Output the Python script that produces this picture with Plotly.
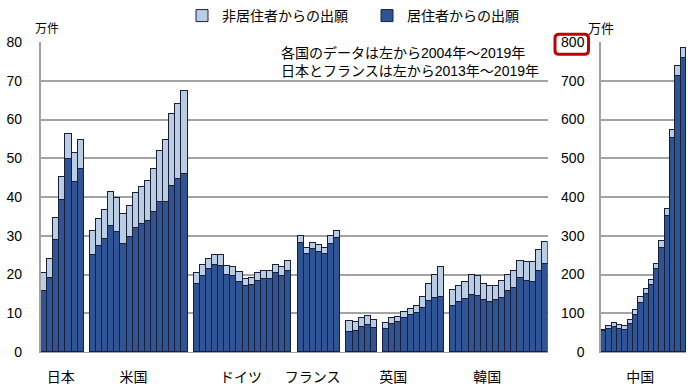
import plotly.graph_objects as go

# ---- data (万件) ----
groups = ["日本", "米国", "ドイツ", "フランス", "英国", "韓国"]

japan_res = [15.8, 19.2, 28.9, 39.1, 49.7, 43.8, 47.2]
japan_non = [4.7, 4.9, 5.6, 6.1, 6.5, 7.5, 7.4]

us_res = [25.0, 27.4, 29.1, 32.5, 30.9, 28.0, 29.6, 31.9, 33.0, 33.9, 36.1, 38.7, 38.8, 42.8, 44.7, 46.0]
us_non = [6.2, 6.8, 7.6, 8.8, 8.9, 7.6, 8.1, 9.1, 9.6, 10.2, 11.1, 13.1, 15.8, 18.6, 19.4, 21.3]

de_res = [17.5, 19.5, 21.4, 22.5, 22.1, 19.9, 19.7, 18.1, 17.1, 17.2, 18.3, 18.9, 18.9, 20.3, 19.5, 21.0]
de_non = [3.0, 2.9, 2.6, 2.6, 2.9, 2.2, 2.3, 2.5, 1.8, 2.0, 2.0, 2.0, 2.0, 2.2, 2.4, 2.5]

fr_res = [28.2, 25.2, 26.5, 25.8, 25.3, 28.0, 29.3]
fr_non = [1.7, 1.7, 1.7, 1.7, 1.6, 1.9, 1.8]

uk_res = [5.2, 5.4, 6.5, 6.9, 6.1, None, 5.9, 7.2, 7.7, 8.7, 9.5, 10.1, 11.4, 13.2, 13.9, 14.2]
uk_non = [2.7, 2.3, 2.3, 2.3, 2.1, None, 1.7, 1.6, 1.4, 1.5, 1.6, 1.7, 2.7, 4.4, 5.9, 7.8]

kr_res = [12.0, 12.8, 13.7, 14.7, 14.5, 13.3, 12.9, 13.3, 14.0, 15.8, 16.4, 19.1, 18.4, 18.1, 20.8, 22.8]
kr_non = [4.0, 4.2, 4.3, 5.1, 5.2, 4.3, 4.1, 3.8, 4.2, 4.2, 4.4, 4.5, 4.8, 5.0, 5.5, 5.6]

cn_label = "中国"
cn_res = [53, 59, 64, 59, 57, 72, 96, 126, 149, 172, 213, 268, 351, 552, 713, 760]
cn_non = [5, 8, 10, 10, 11, 10, 12, 15, 14, 14, 15, 19, 19, 21, 24, 24]

name_non = "非居住者からの出願"
name_res = "居住者からの出願"
unit = "万件"
note1 = "各国のデータは左から2004年～2019年"
note2 = "日本とフランスは左から2013年～2019年"

left_ticks = [0, 10, 20, 30, 40, 50, 60, 70, 80]
right_ticks = [0, 100, 200, 300, 400, 500, 600, 700, 800]

# ---- styling / layout ----
C_RES = "#2E5496"
C_NON = "#B9CDE5"
C_EDGE = "#1A1F36"
GRID = "#A3A3A3"
FONT = "Liberation Sans, Arial, Noto Sans CJK JP, sans-serif"

res_series = [japan_res, us_res, de_res, fr_res, uk_res, kr_res]
non_series = [japan_non, us_non, de_non, fr_non, uk_non, kr_non]

# slot positions: one empty slot between countries
xs, res_all, non_all = [], [], []
pos = 0
for r, n in zip(res_series, non_series):
    for i in range(len(r)):
        xs.append(pos + i)
        res_all.append(r[i])
        non_all.append(n[i])
    pos += len(r) + 1
n_slots = pos - 1

# label positions (in slot units) as placed in the reference
label_pos = [2.8, 14.7, 32.3, 44.0, 57.2, 72.6]
cn_label_pos = 6.9

cn_x = list(range(len(cn_res)))

fig = go.Figure()
fig.add_trace(go.Bar(x=xs, y=res_all, name=name_res, marker=dict(color=C_RES, line=dict(color=C_EDGE, width=1)),
                     xaxis="x", yaxis="y", legendrank=2))
fig.add_trace(go.Bar(x=xs, y=non_all, name=name_non, marker=dict(color=C_NON, line=dict(color=C_EDGE, width=1)),
                     xaxis="x", yaxis="y", legendrank=1))
fig.add_trace(go.Bar(x=cn_x, y=cn_res, name=name_res, marker=dict(color=C_RES, line=dict(color=C_EDGE, width=1)),
                     xaxis="x2", yaxis="y2", showlegend=False))
fig.add_trace(go.Bar(x=cn_x, y=cn_non, name=name_non, marker=dict(color=C_NON, line=dict(color=C_EDGE, width=1)),
                     xaxis="x2", yaxis="y2", showlegend=False))

W, H = 700, 392
T, B = 42, 40
PH = H - T - B


def py(y):
    return (H - B - y) / PH


def px(x):
    return x / W


axis_font = dict(family=FONT, size=14, color="#000")

fig.update_layout(
    width=W, height=H, autosize=False,
    margin=dict(l=0, r=0, t=T, b=B, autoexpand=False),
    paper_bgcolor="white", plot_bgcolor="white",
    barmode="stack", bargap=0,
    font=dict(family=FONT, size=14, color="#000"),
    xaxis=dict(domain=[px(40.7), px(547.7)], range=[-0.5, n_slots - 0.5], showgrid=False, zeroline=False,
               showline=True, linecolor=GRID, linewidth=1, ticks="", automargin=False,
               tickmode="array", tickvals=label_pos, ticktext=groups, tickfont=axis_font, ticklabelstandoff=12),
    yaxis=dict(range=[0, 80], tickmode="array", tickvals=left_ticks, showgrid=True, gridcolor=GRID, gridwidth=1.5,
               zeroline=False, showline=True, linecolor=GRID, linewidth=1.5, ticks="", automargin=False,
               tickfont=axis_font, ticklabelstandoff=14),
    xaxis2=dict(domain=[px(601), px(686)], range=[-0.5, len(cn_res) - 0.5], anchor="y2", showgrid=False,
                zeroline=False, showline=True, linecolor=GRID, linewidth=1, ticks="", automargin=False,
                tickmode="array", tickvals=[cn_label_pos], ticktext=[cn_label], tickfont=axis_font,
                ticklabelstandoff=12),
    yaxis2=dict(range=[0, 800], anchor="x2", tickmode="array", tickvals=right_ticks, showgrid=True,
                gridcolor=GRID, gridwidth=1.5, zeroline=False, showline=True, linecolor=GRID, linewidth=1.5,
                ticks="", tickfont=axis_font, ticklabelstandoff=12, automargin=False),
    legend=dict(orientation="h", x=px(182), xanchor="left", y=py(16), yanchor="middle",
                font=dict(family=FONT, size=14, color="#000"), traceorder="normal",
                entrywidth=140, entrywidthmode="pixels", itemwidth=30, bgcolor="rgba(0,0,0,0)"),
)

fig.add_annotation(x=px(46.7), y=py(29), xref="paper", yref="paper", text=unit, showarrow=False,
                   font=dict(family=FONT, size=12), xanchor="center", yanchor="middle")
fig.add_annotation(x=px(601.3), y=py(29), xref="paper", yref="paper", text=unit, showarrow=False,
                   font=dict(family=FONT, size=13), xanchor="center", yanchor="middle")
fig.add_annotation(x=px(279), y=py(52.7), xref="paper", yref="paper", text=note1, showarrow=False,
                   font=dict(family=FONT, size=14), xanchor="left", yanchor="middle")
fig.add_annotation(x=px(279), y=py(71), xref="paper", yref="paper", text=note2, showarrow=False,
                   font=dict(family=FONT, size=14), xanchor="left", yanchor="middle")

# red rounded highlight around the 800 label
x0, x1 = px(555), px(588.5)
y0, y1 = py(54.2), py(34.2)
rx, ry = 4 / W, 4 / PH
path = (f"M{x0+rx},{y1} L{x1-rx},{y1} Q{x1},{y1} {x1},{y1-ry} L{x1},{y0+ry} Q{x1},{y0} {x1-rx},{y0} "
        f"L{x0+rx},{y0} Q{x0},{y0} {x0},{y0+ry} L{x0},{y1-ry} Q{x0},{y1} {x0+rx},{y1} Z")
fig.add_shape(type="path", path=path, xref="paper", yref="paper", line=dict(color="#C00000", width=3),
              fillcolor="rgba(0,0,0,0)")

fig.write_html("out.html", config={"displayModeBar": False},
               post_script="document.body.style.margin='0';")
